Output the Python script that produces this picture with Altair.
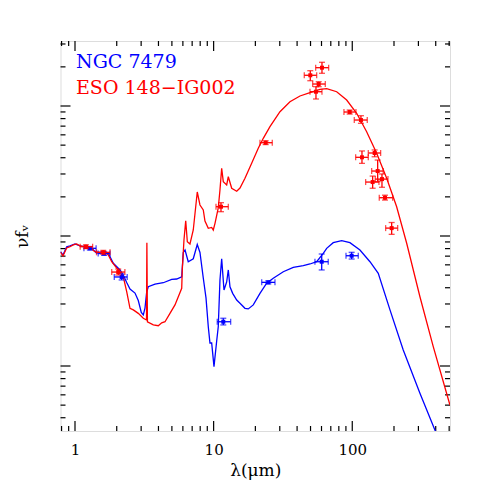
import altair as alt
import pandas as pd

# ---------------- data ----------------
red_lam = [0.786, 0.819, 0.871, 0.920, 0.972, 1.029, 1.087, 1.181, 1.283, 1.394, 1.515, 1.646,
           1.739, 1.840, 1.999, 2.112, 2.230, 2.360, 2.493, 2.634, 2.861, 3.110, 3.280, 3.300,
           3.330, 3.670, 3.988, 4.221, 4.459, 4.843, 5.263, 5.885, 5.94, 6.11, 6.29, 6.46,
           6.75, 7.13, 7.62, 7.97, 8.42, 8.66, 9.15, 9.68, 9.94, 10.23, 10.80, 11.11, 11.43,
           11.74, 12.42, 12.76, 13.50, 14.67, 15.49, 16.83, 18.81, 20.99, 22.81, 25.49, 30.10,
           35.53, 41.96, 49.55, 58.48, 65.38, 77.20, 91.13, 107.6, 127.0, 150.0, 177.1, 209.0,
           246.9, 307.7, 383.9, 506.6]
red_f = [0.753, 0.702, 0.809, 0.827, 0.853, 0.868, 0.838, 0.827, 0.809, 0.757, 0.744, 0.757,
         0.714, 0.634, 0.567, 0.528, 0.486, 0.373, 0.278, 0.270, 0.254, 0.233, 0.226, 0.888,
         0.219, 0.207, 0.204, 0.215, 0.219, 0.254, 0.295, 0.396, 0.548, 0.932, 1.311, 0.904,
         0.868, 1.112, 2.18, 1.732, 1.585, 1.304, 1.146, 1.163, 1.112, 1.252, 1.642, 2.258, 3.317,
         2.617, 2.468, 2.858, 2.328, 2.211, 2.340, 2.778, 3.624, 4.728, 5.643, 6.93, 9.04,
         10.79, 11.94, 12.66, 13.44, 13.59, 12.88, 11.12, 8.79, 6.34, 4.33, 2.778, 1.680,
         0.879, 0.341, 0.1408, 0.0501]

blue_lam = [0.786, 0.819, 0.871, 0.920, 1.000, 1.087, 1.214, 1.320, 1.434, 1.558, 1.739, 1.889,
            2.112, 2.230, 2.360, 2.493, 2.709, 2.861, 3.007, 3.110, 3.198, 3.290, 3.378, 3.776,
            4.335, 4.983, 5.414, 5.885, 6.04, 6.22, 6.56, 7.13, 7.62, 7.97, 8.42, 8.81, 9.15,
            9.41, 9.68, 10.06, 10.52, 10.80, 11.11, 11.43, 11.88, 12.42, 12.76, 13.12, 13.72,
            14.67, 15.49, 16.83, 17.78, 19.32, 21.59, 24.13, 26.93, 31.80, 37.54, 44.33, 49.55,
            55.37, 61.8, 65.38, 72.9, 83.9, 96.2, 113.6, 134.2, 154.0, 187.1, 233.2, 307.7, 408.2]
blue_f = [0.757, 0.714, 0.827, 0.838, 0.868, 0.838, 0.819, 0.804, 0.736, 0.757, 0.736, 0.617,
          0.548, 0.501, 0.439, 0.391, 0.364, 0.319, 0.258, 0.247, 0.279, 0.371, 0.407, 0.427,
          0.437, 0.464, 0.467, 0.486, 0.747, 0.780, 0.634, 0.668, 0.860, 0.747, 0.475, 0.334,
          0.2006, 0.1503, 0.1503, 0.0988, 0.1557, 0.2006, 0.459, 0.668, 0.384, 0.443, 0.548,
          0.407, 0.362, 0.322, 0.304, 0.278, 0.275, 0.295, 0.362, 0.433, 0.473, 0.531, 0.574,
          0.591, 0.609, 0.634, 0.736, 0.804, 0.888, 0.920, 0.888, 0.780, 0.634, 0.517, 0.270,
          0.1328, 0.0617, 0.02946]

# photometry (ESO 148-IG002, red)
rp_lam = [1.20, 1.60, 2.05, 11.3, 23.74, 49.8, 60.47, 57.25, 54.73, 95.8, 115.5, 145.0, 117.5,
          152.5, 140.3, 163.8, 172.2, 192.4]
rp_f = [0.827, 0.749, 0.528, 1.68, 5.22, 17.23, 19.71, 14.76, 12.88, 8.99, 7.80, 4.35, 4.03,
        3.16, 2.60, 2.74, 1.97, 1.15]
rp_lam_lo = [1.09, 1.43, 1.84, 10.4, 21.59, 45.07, 54.45, 51.8, 49.55, 87.1, 103.4, 130.5, 105.8,
             138.0, 124.9, 146.5, 156.6, 174.1]
rp_lam_hi = [1.34, 1.79, 2.29, 12.76, 26.49, 55.37, 67.57, 63.9, 60.47, 106.3, 128.3, 160.2, 130.5,
             167.3, 155.8, 180.9, 195.6, 212.6]
rp_f_lo = [0.80, 0.725, 0.501, 1.538, 5.05, 15.65, 17.85, 14.08, 11.32, 8.67, 7.36, 4.07, 3.62,
           2.62, 2.33, 2.37, 1.89, 1.03]
rp_f_hi = [0.855, 0.775, 0.557, 1.804, 5.40, 18.69, 21.69, 15.38, 14.08, 9.31, 8.42, 4.59, 4.51,
           3.84, 2.89, 3.00, 2.06, 1.27]

# photometry (NGC 7479, blue)
bp_lam = [1.28, 1.62, 2.17, 11.74, 24.79, 60.2, 99.0]
bp_f = [0.804, 0.733, 0.484, 0.219, 0.440, 0.634, 0.705]
bp_lam_lo = [1.16, 1.47, 1.92, 10.62, 22.22, 53.8, 90.1]
bp_lam_hi = [1.42, 1.79, 2.38, 13.27, 27.70, 67.1, 110.5]
bp_f_lo = [0.78, 0.71, 0.459, 0.207, 0.428, 0.548, 0.665]
bp_f_hi = [0.83, 0.755, 0.510, 0.233, 0.452, 0.727, 0.749]

legend_names = ["NGC 7479", "ESO 148\u2212IG002"]
legend_colors = ["#0000ff", "#ff0000"]

x_labels = [1, 10, 100]
x_major = [1, 10, 100]
x_minor = [0.8, 0.9, 2, 3, 4, 5, 6, 7, 8, 9, 20, 30, 40, 50, 60, 70, 80, 90, 200, 300, 400, 500]
y_major = [0.1, 1, 10]
y_minor = [0.04, 0.05, 0.06, 0.07, 0.08, 0.09, 0.2, 0.3, 0.4, 0.5, 0.6, 0.7, 0.8, 0.9,
           2, 3, 4, 5, 6, 7, 8, 9, 20, 30]

# ---------------- layout ----------------
W, H = 389.5, 390
FONT = "DejaVu Serif"

xs = alt.Scale(type="log", domain=[0.786, 507], nice=False)
ys = alt.Scale(type="log", domain=[10 ** -1.5, 10 ** 1.5], nice=False)

xaxis = alt.Axis(values=x_labels, format="d", ticks=False, tickSize=0, domain=False, grid=False,
                 labelFont=FONT, labelFontSize=15, labelPadding=11, labelColor="black",
                 title="\u03bb(\u03bcm)", titleFont=FONT, titleFontSize=17, titleFontWeight="normal",
                 titlePadding=5, titleColor="black")
yaxis = alt.Axis(labels=False, ticks=False, domain=False, grid=False,
                 title="\u03bdf\u1d65", titleFont=FONT, titleFontSize=17, titleFontWeight="normal",
                 titlePadding=29, titleColor="black")

X = alt.X("lam:Q", scale=xs, axis=xaxis)
Y = alt.Y("f:Q", scale=ys, axis=yaxis)

def curve(lams, fs, color):
    df = pd.DataFrame({"lam": lams, "f": fs, "i": range(len(lams))})
    return alt.Chart(df).mark_line(color=color, strokeWidth=1.3, clip=True).encode(
        x=X, y=Y, order="i:Q")

def photometry(lam, f, llo, lhi, flo, fhi, color):
    df = pd.DataFrame({"lam": lam, "f": f, "llo": llo, "lhi": lhi, "flo": flo, "fhi": fhi})
    base = alt.Chart(df)
    xbar = base.mark_rule(color=color, strokeWidth=1.3).encode(
        x=alt.X("llo:Q", scale=xs, axis=xaxis), x2="lhi:Q", y=Y)
    ybar = base.mark_rule(color=color, strokeWidth=1.3).encode(
        x=X, y=alt.Y("flo:Q", scale=ys, axis=yaxis), y2="fhi:Q")
    cap_xl = base.mark_tick(color=color, orient="vertical", size=6, thickness=1.3).encode(
        x=alt.X("llo:Q", scale=xs, axis=xaxis), y=Y)
    cap_xh = base.mark_tick(color=color, orient="vertical", size=6, thickness=1.3).encode(
        x=alt.X("lhi:Q", scale=xs, axis=xaxis), y=Y)
    cap_yl = base.mark_tick(color=color, orient="horizontal", size=6, thickness=1.3).encode(
        x=X, y=alt.Y("flo:Q", scale=ys, axis=yaxis))
    cap_yh = base.mark_tick(color=color, orient="horizontal", size=6, thickness=1.3).encode(
        x=X, y=alt.Y("fhi:Q", scale=ys, axis=yaxis))
    pts = base.mark_square(color=color, size=16, opacity=1).encode(x=X, y=Y)
    return [xbar, ybar, cap_xl, cap_xh, cap_yl, cap_yh, pts]

def xticks(vals, length):
    df = pd.DataFrame({"lam": vals})
    b = alt.Chart(df).mark_rule(color="black", strokeWidth=1.2)
    bottom = b.encode(x=X, y=alt.value(H), y2=alt.value(H - length))
    top = b.encode(x=X, y=alt.value(0), y2=alt.value(length))
    return [bottom, top]

def yticks(vals, length):
    df = pd.DataFrame({"f": vals})
    b = alt.Chart(df).mark_rule(color="black", strokeWidth=1.2)
    left = b.encode(y=Y, x=alt.value(0), x2=alt.value(length))
    right = b.encode(y=Y, x=alt.value(W), x2=alt.value(W - length))
    return [left, right]

def legend_text(i, ypix):
    df = pd.DataFrame({"label": [legend_names[i]]})
    return alt.Chart(df).mark_text(align="left", baseline="alphabetic", font=FONT, fontSize=19,
                                   color=legend_colors[i]).encode(
        x=alt.value(15.5), y=alt.value(ypix), text="label:N")

layers = []
layers += xticks(x_major, 10) + xticks(x_minor, 5) + yticks(y_major, 10) + yticks(y_minor, 5)
layers.append(curve(blue_lam, blue_f, "#0000ff"))
layers.append(curve(red_lam, red_f, "#ff0000"))
layers += photometry(bp_lam, bp_f, bp_lam_lo, bp_lam_hi, bp_f_lo, bp_f_hi, "#0000ff")
layers += photometry(rp_lam, rp_f, rp_lam_lo, rp_lam_hi, rp_f_lo, rp_f_hi, "#ff0000")
layers.append(legend_text(0, 26.5))
layers.append(legend_text(1, 53))

chart = alt.layer(*layers).properties(
    width=W, height=H,
    autosize=alt.AutoSizeParams(type="none"),
    padding={"left": 52.5, "top": 33, "right": 30, "bottom": 50},
).configure_view(stroke="black", strokeWidth=1.5).configure(background="white")

chart.save("out.html", embed_options={"renderer": "svg", "actions": False})
